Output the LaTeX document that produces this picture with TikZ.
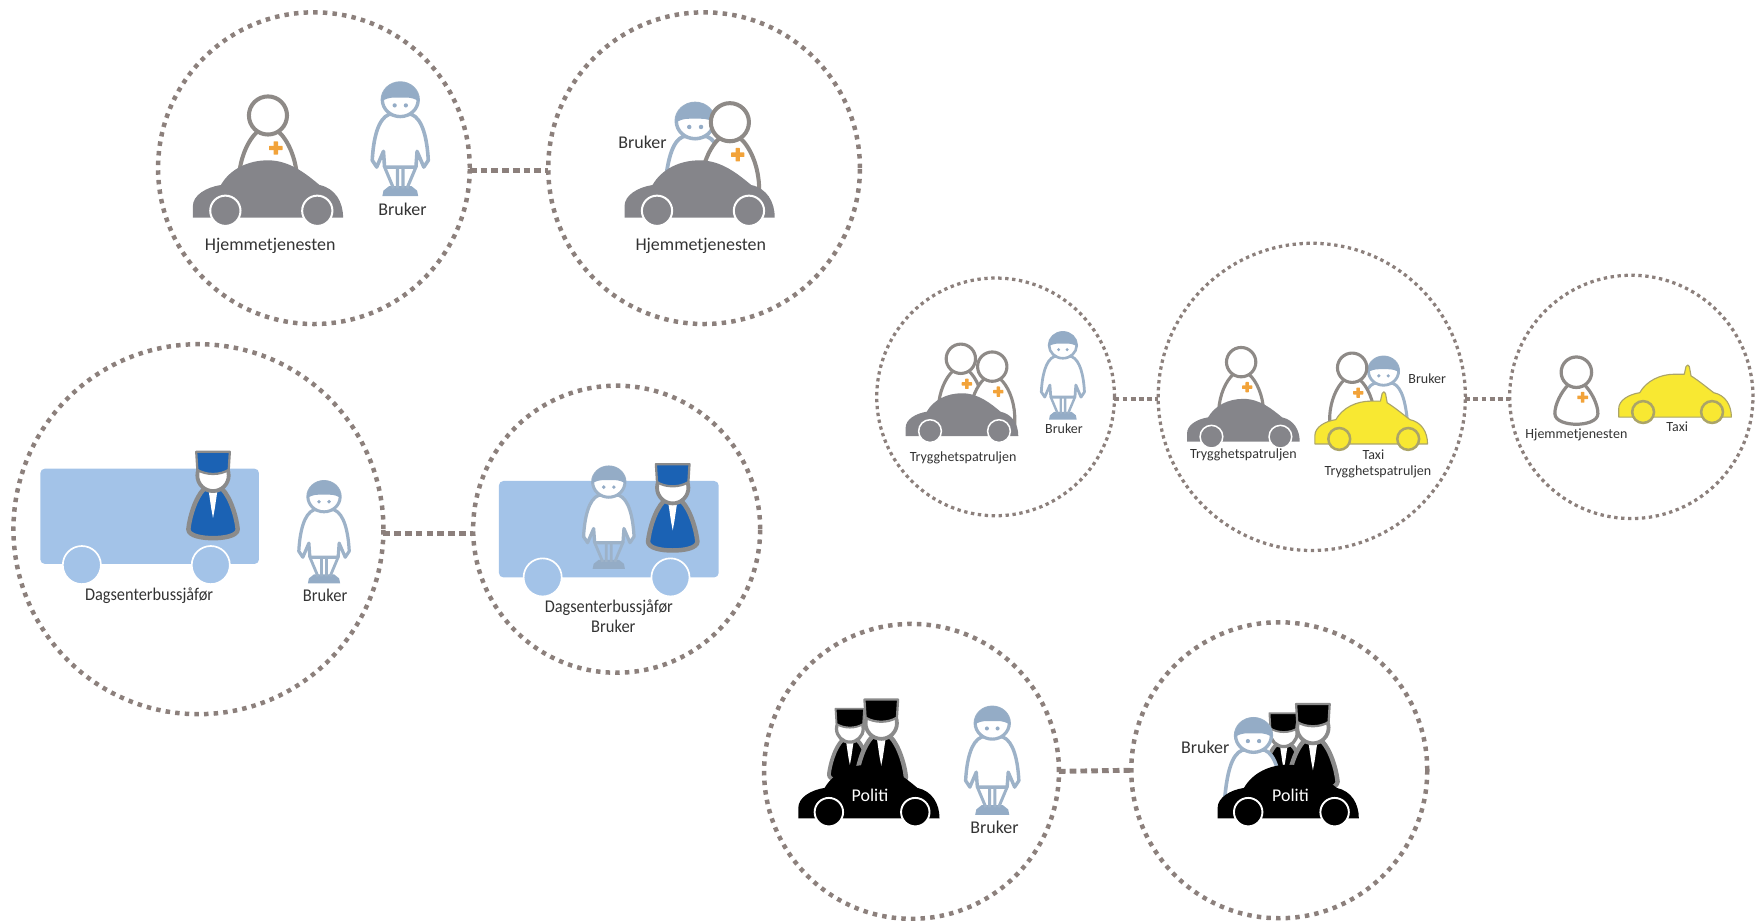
\documentclass[tikz,border=0pt]{standalone}
\usepackage{fontspec}
\usepackage{graphicx}
\setmainfont{Carlito}
\definecolor{ringc}{HTML}{8C807C}
\definecolor{pawnc}{HTML}{8E8A87}
\definecolor{carc}{HTML}{85858A}
\definecolor{userc}{HTML}{9DB2C8}
\definecolor{hairc}{HTML}{94ACC6}
\definecolor{plusc}{HTML}{F2A33A}
\definecolor{busc}{HTML}{A3C3E8}
\definecolor{drvc}{HTML}{1B62B4}
\definecolor{capc}{HTML}{8B8B8B}
\definecolor{taxic}{HTML}{F8E832}
\definecolor{taxil}{HTML}{ABA468}
\definecolor{txtc}{HTML}{333333}
\tikzset{
  ringbig/.style={circle,draw=ringc,line width=4pt,dash pattern=on 4pt off 4.6pt,inner sep=0pt,outer sep=0pt},
  ringsmall/.style={circle,draw=ringc,line width=2.9pt,dash pattern=on 3pt off 3.2pt,inner sep=0pt,outer sep=0pt},
  linkbig/.style={draw=ringc,line width=4.4pt,dash pattern=on 6pt off 3.6pt},
  linksmall/.style={draw=ringc,line width=3.2pt,dash pattern=on 4.4pt off 2.8pt},
  lab/.style={text=txtc,inner sep=0pt,font=\fontsize{16}{16}\selectfont},
  labs/.style={text=txtc,inner sep=0pt,font=\fontsize{12.5}{12.5}\selectfont},
}
% x y scale fill wheel-stroke
\newcommand{\carfig}[5]{\begin{scope}[shift={(#1,#2)},scale=#3]
  \fill[#4] (-67,0) -- (-67,-10) .. controls (-67,-20) and (-55,-27) .. (-42,-29)
    .. controls (-34,-43) and (-18,-51) .. (0,-51)
    .. controls (20,-51) and (35,-38) .. (46,-29)
    .. controls (60,-26) and (67,-14) .. (67,0) -- cycle;
  \foreach \wx in {-38,44}{\draw[fill=#4,draw=#5,line width=#3*1.8pt] (\wx,-6) circle [radius=13.5];}
\end{scope}}
\newcommand{\taxifig}[3]{\begin{scope}[shift={(#1,#2)},scale=#3]
  \draw[fill=taxic,draw=taxil,line width=1pt,line join=round] (-67,0) -- (-67,-10) .. controls (-67,-20) and (-55,-27) .. (-42,-29)
    .. controls (-34,-43) and (-18,-51) .. (0,-51) -- (11,-51) -- (13,-60) -- (15,-62) -- (17,-60) -- (19,-49)
    .. controls (30,-42) and (38,-35) .. (46,-29)
    .. controls (60,-26) and (67,-14) .. (67,0) -- cycle;
  \foreach \wx in {-38,44}{\draw[fill=taxic,draw=taxil,line width=#3*3pt] (\wx,-6) circle [radius=13];}
\end{scope}}
\newcommand{\plusfig}[2]{\begin{scope}[shift={(#1,#2)}]
  \fill[plusc,rounded corners=.5pt] (-2,-6) rectangle (2,6);
  \fill[plusc,rounded corners=.5pt] (-6,-2) rectangle (6,2);
\end{scope}}
% pawn: full figure, x y scale
\newcommand{\pawnfig}[3]{\begin{scope}[shift={(#1,#2)},scale=#3]
  \draw[fill=white,draw=pawnc,line width=#3*3.6pt] (-9,14) .. controls (-17,22) and (-24,36) .. (-24,46)
    .. controls (-24,55) and (-10,58) .. (0,58) .. controls (10,58) and (24,55) .. (24,46)
    .. controls (24,36) and (17,22) .. (9,14) -- cycle;
  \draw[fill=white,draw=pawnc,line width=#3*3.6pt] (0,0) circle [radius=17];
  \plusfig{7}{28}
\end{scope}}
% pawn standing behind a car
\newcommand{\pawnbust}[3]{\begin{scope}[shift={(#1,#2)},scale=#3]
  \draw[fill=white,draw=pawnc,line width=#3*3.6pt] (-9,14) .. controls (-18,22) and (-25,38) .. (-26,56)
    -- (-26,72) -- (26,72) -- (26,56)
    .. controls (25,38) and (18,22) .. (9,14) -- cycle;
  \draw[fill=white,draw=pawnc,line width=#3*3.6pt] (0,0) circle [radius=17];
  \plusfig{7}{29}
\end{scope}}
\newcommand{\userhead}[1]{%
  \draw[fill=white,draw=userc,line width=#1*3pt] (0,0) ellipse [x radius=16,y radius=15];
  \fill[hairc] (-17,2) .. controls (-17,-9) and (-9,-16) .. (0,-16)
     .. controls (9,-16) and (17,-9) .. (17,2) .. controls (14,-1) and (9,-2) .. (5,-2)
     .. controls (4,-2) and (-4,-2) .. (-5,-2) .. controls (-9,-2) and (-14,-1) .. (-17,2) -- cycle;
  \fill[hairc] (-5,5) circle [radius=1.9];
  \fill[hairc] (5,5) circle [radius=1.9];}
% user, whole figure
\newcommand{\userfig}[3]{\begin{scope}[shift={(#1,#2)},scale=#3]
  \fill[hairc] (-16,86) -- (-15,81) -- (-10,77) -- (10,77) -- (15,81) -- (16,86) -- cycle;
  \draw[userc,line width=#3*2.8pt] (-14,60) -- (-6,79) (-2.5,61) -- (-2.5,79) (2.5,61) -- (2.5,79) (14,60) -- (6,79);
  \draw[fill=white,draw=userc,line width=#3*3.2pt,line join=round] (-10,13) .. controls (-20,17) and (-24,35) .. (-25,54)
     -- (-21,60) -- (-15,46) -- (-14,60) -- (14,60) -- (15,46) -- (21,60) -- (25,54)
     .. controls (24,35) and (20,17) .. (10,13) -- cycle;
  \userhead{#3}
\end{scope}}
% user standing behind something
\newcommand{\userbust}[3]{\begin{scope}[shift={(#1,#2)},scale=#3]
  \draw[fill=white,draw=userc,line width=#3*3.2pt] (-10,13) .. controls (-20,17) and (-24,35) .. (-26,60)
     -- (-26,66) -- (26,66) -- (26,60) .. controls (24,35) and (20,17) .. (10,13) -- cycle;
  \userhead{#3}
\end{scope}}
% uniformed figure: x y scale bodyfill
\newcommand{\drvfig}[4]{\begin{scope}[shift={(#1,#2)},scale=#3]
  \draw[fill=#4,draw=capc,line width=#3*4pt,line join=round] (-8,12) .. controls (-16,20) and (-21,38) .. (-22,48)
    .. controls (-22,54) and (-10,56) .. (0,56) .. controls (10,56) and (22,54) .. (22,48)
    .. controls (21,38) and (16,20) .. (8,12) -- cycle;
  \fill[white] (-4,13) -- (4,13) -- (1.5,30) -- (0,38) -- (-1.5,30) -- cycle;
  \draw[fill=white,draw=capc,line width=#3*3.4pt] (0,0) circle [radius=14];
  \draw[fill=#4,draw=capc,line width=#3*2pt,line join=round] (-15,-21) -- (15,-21) -- (14,-5)
    .. controls (6,0) and (-6,0) .. (-14,-5) -- cycle;
\end{scope}}
\begin{document}
\begin{tikzpicture}[x=1pt,y=-1pt]
\useasboundingbox (0,0) rectangle (1568,820.6);
% rings
\node[ringbig,minimum size=278pt] (c1) at (280,150) {};
\node[ringbig,minimum size=278pt] (c2) at (628,150) {};
\node[ringbig,minimum size=330pt] (c3) at (177,472) {};
\node[ringbig,minimum size=256pt] (c4) at (550,472) {};
\node[ringsmall,minimum size=212pt] (c5) at (888,354) {};
\node[ringsmall,minimum size=274pt] (c6) at (1170,354) {};
\node[ringsmall,minimum size=217pt] (c7) at (1455,354) {};
\node[ringbig,minimum size=263pt] (c8) at (813,688) {};
\node[ringbig,minimum size=264pt] (c9) at (1141,687) {};
% connectors
\draw[linkbig] ([yshift=-2pt]c1.east) -- ([yshift=-2pt]c2.west);
\draw[linkbig] ([yshift=-4pt]c3.east) -- ([yshift=-4pt]c4.west);
\draw[linksmall] ([yshift=-2pt]c5.east) -- ([yshift=-2pt]c6.west);
\draw[linksmall] ([yshift=-2pt]c6.east) -- ([yshift=-2pt]c7.west);
\draw[linkbig] (c8.east) -- (c9.west);
% circle 1
\pawnbust{239}{103}{1}
\carfig{239}{194}{1}{carc}{white}
\userfig{357}{89}{1}
\node[lab] (t1a) at (241,219) {Hjemmetjenesten};
\node[lab] (t1b) at (359,187) {Bruker};
% circle 2
\userbust{620}{108}{1.05}
\pawnbust{651}{109}{1}
\carfig{624}{194}{1}{carc}{white}
\node[lab] (t2a) at (573,127) {Bruker};
\node[lab] (t2b) at (625,219) {Hjemmetjenesten};
% circle 3
\fill[busc,rounded corners=4pt] (36,418) rectangle (231,503);
\foreach \wx in {73,188}{\draw[fill=busc,draw=white,line width=1.5pt] (\wx,504) circle [radius=17];}
\drvfig{190}{424}{1}{drvc}
\userfig{289}{443}{.9}
\node[lab] (t3a) at (133,531) {\scalebox{.91}[1]{Dagsenterbussjåfør}};
\node[lab] (t3b) at (290,531) {\scalebox{.92}[1]{Bruker}};
% circle 4
\fill[busc,rounded corners=4pt] (445,429) rectangle (641,515);
\foreach \wx in {484,598}{\draw[fill=busc,draw=white,line width=1.5pt] (\wx,515) circle [radius=17];}
\userfig{543}{430}{.9}
\drvfig{600}{435}{1}{drvc}
\node[lab] (t4a) at (543,542) {\scalebox{.91}[1]{Dagsenterbussjåfør}};
\node[lab] (t4b) at (547,559) {\scalebox{.92}[1]{Bruker}};
% circle 5
\pawnbust{857}{320}{.77}
\pawnbust{885}{327}{.77}
\carfig{858}{389}{.75}{carc}{white}
\userfig{948}{308}{.77}
\node[labs] (t5a) at (859,408) {Trygghetspatruljen};
\node[labs] (t5b) at (949,382) {Bruker};
% circle 6
\pawnbust{1107}{323}{.77}
\carfig{1109}{394}{.75}{carc}{white}
\userbust{1234}{331}{.84}
\pawnbust{1206}{328}{.77}
\taxifig{1223}{396}{.75}
\node[labs] (t6a) at (1109,406) {Trygghetspatruljen};
\node[labs] (t6b) at (1225,406) {Taxi};
\node[labs] (t6c) at (1229,421) {Trygghetspatruljen};
\node[labs] (t6d) at (1273,338) {Bruker};
% circle 7
\pawnfig{1406}{332}{.8}
\taxifig{1494}{372}{.75}
\node[labs] (t7a) at (1406,388) {Hjemmetjenesten};
\node[labs] (t7b) at (1496,381) {Taxi};
% circle 8
\drvfig{758}{650}{.85}{black}
\drvfig{786}{645}{1}{black}
\carfig{775}{730}{.94}{black}{white}
\userfig{885}{645}{.95}
\node[lab,text=white] (t8a) at (776,709) {Politi};
\node[lab] (t8b) at (887,738) {Bruker};
% circle 9
\drvfig{1145}{654}{.85}{black}
\userbust{1118}{656}{1}
\drvfig{1171}{649}{1}{black}
\carfig{1149}{730}{.94}{black}{white}
\node[lab,text=white] (t9a) at (1151,709) {Politi};
\node[lab] (t9b) at (1075,667) {Bruker};
\end{tikzpicture}
\end{document}
